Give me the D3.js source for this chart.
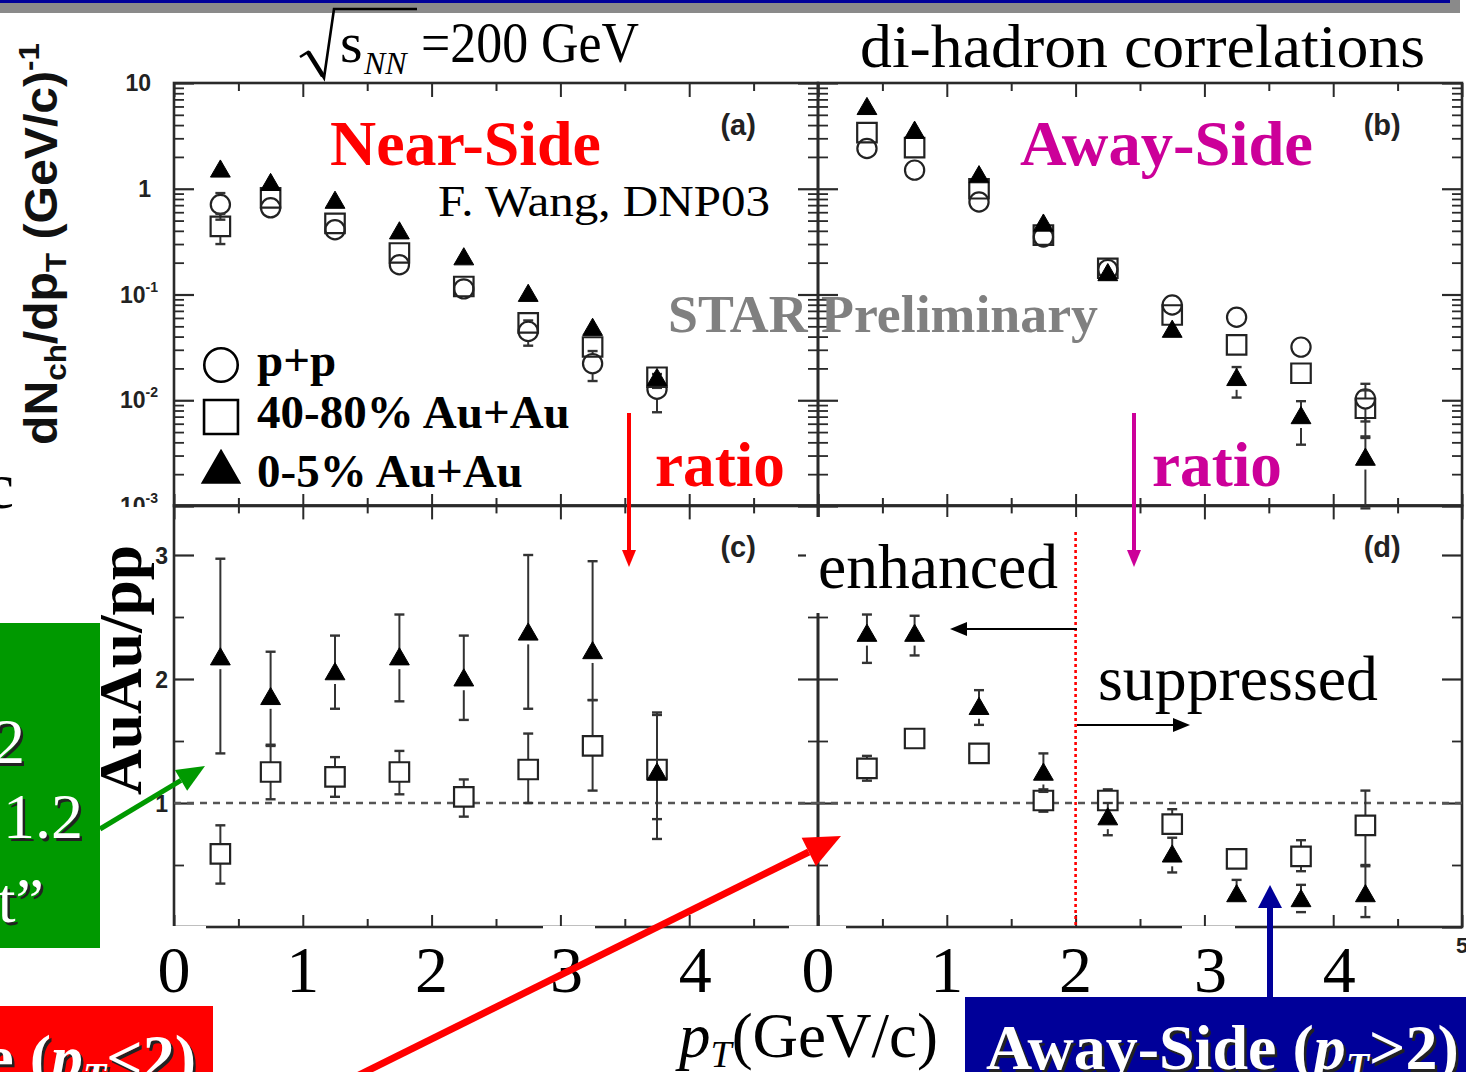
<!DOCTYPE html>
<html>
<head>
<meta charset="utf-8">
<script src="https://cdn.jsdelivr.net/npm/d3@7"></script>
<style>
  body { margin: 0; background: #fff; overflow: hidden; }
  svg { display: block; }
</style>
</head>
<body>
<svg id="chart" width="1466" height="1072"></svg>
<script>
// ---- pT bin centres (GeV/c) ----
const ptNear = [0.36, 0.75, 1.25, 1.75, 2.25, 2.75, 3.25, 3.75];
const ptAway = [0.38, 0.75, 1.25, 1.75, 2.25, 2.75, 3.25, 3.75, 4.25];

// ---- (a) near-side yields dN/dpT ----
const nearPP      = [0.71, 0.66, 0.41, 0.191, 0.113, 0.0448, 0.0222, 0.0127];
const nearPPErr   = [0.20, 0, 0, 0, 0, 0.012, 0.007, 0.005];
const nearPeri    = [0.44, 0.82, 0.47, 0.247, 0.119, 0.054, 0.0319, 0.0165];
const nearPeriErr = [0.14, 0, 0, 0, 0, 0, 0, 0.0034];
const nearCent    = [1.46, 1.09, 0.74, 0.38, 0.216, 0.0975, 0.0465, 0.0156];
const nearCentErr = [0, 0, 0, 0, 0, 0, 0, 0];

// ---- (b) away-side yields dN/dpT ----
const awayPP      = [2.4, 1.5, 0.75, 0.35, 0.172, 0.0796, 0.061, 0.0318, 0.0103];
const awayPPErr   = [0, 0, 0, 0, 0, 0, 0, 0, 0.004];
const awayPeri    = [3.4, 2.45, 1.0, 0.364, 0.177, 0.064, 0.0334, 0.018, 0.0084];
const awayPeriErr = [0, 0, 0, 0, 0, 0, 0, 0, 0.004];
const awayCent    = [5.7, 3.4, 1.29, 0.45, 0.153, 0.0446, 0.0156, 0.0068, 0.00275];
const awayCentErr = [0, 0, 0, 0, 0, 0, 0.005, 0.003, 0.0018];

// ---- (c) near-side ratio AuAu/pp ----
const nearRatioCent   = [2.16, 1.84, 2.04, 2.16, 1.99, 2.36, 2.21, 1.23];
const nearRatioCentHi = [0.81, 0.38, 0.31, 0.36, 0.36, 0.64, 0.74, 0.50];
const nearRatioCentLo = [0.76, 0.38, 0.28, 0.34, 0.32, 0.60, 0.38, 0.52];
const nearRatioPeri   = [0.59, 1.25, 1.21, 1.25, 1.05, 1.27, 1.46, 1.27];
const nearRatioPeriHi = [0.23, 0.22, 0.16, 0.17, 0.14, 0.29, 0.37, 0.44];
const nearRatioPeriLo = [0.24, 0.22, 0.16, 0.18, 0.16, 0.27, 0.36, 0.40];

// ---- (d) away-side ratio AuAu/pp ----
const awayRatioCent   = [2.35, 2.35, 1.76, 1.23, 0.87, 0.57, 0.25, 0.21, 0.25];
const awayRatioCentHi = [0.17, 0.16, 0.15, 0.17, 0.13, 0.15, 0.13, 0.13, 0.24];
const awayRatioCentLo = [0.22, 0.16, 0.13, 0.14, 0.13, 0.13, 0.08, 0.09, 0.17];
const awayRatioPeri   = [1.28, 1.52, 1.40, 1.02, 1.02, 0.83, 0.55, 0.57, 0.82];
const awayRatioPeriHi = [0.10, 0.05, 0.05, 0.09, 0.09, 0.12, 0.08, 0.13, 0.28];
const awayRatioPeriLo = [0.10, 0.05, 0.05, 0.09, 0.06, 0.08, 0.08, 0.12, 0.32];

// ---- axis ticks / labels ----
const xMajor = [0, 1, 2, 3, 4, 5];
const xMinor = [0.5, 1.5, 2.5, 3.5, 4.5];
const xTickText = ["0", "1", "2", "3", "4"];
const logDecades = [1e-3, 1e-2, 1e-1, 1, 10];
const logLabels = [["10", "-3"], ["10", "-2"], ["10", "-1"], ["1", ""], ["10", ""]];
const ratioMajor = [0, 1, 2, 3];
const ratioMinor = [0.5, 1.5, 2.5];
const ratioLabels = ["1", "2", "3"];

const SERIF = "'Liberation Serif','Times New Roman',serif";
const SANS = "'Liberation Sans',Arial,sans-serif";
const RED = "#ff0000", MAG = "#cc0099", FRAME = "#2a2a2a";

const svg = d3.select("#chart");

// ---- scales ----
const xL = d3.scaleLinear().domain([0, 5]).range([174, 818]);
const xR = d3.scaleLinear().domain([0, 5]).range([818, 1462]);
const yTop = d3.scaleLog().domain([1e-3, 10]).range([506, 83]);
const yBot = d3.scaleLinear().domain([0, 3.4]).range([927, 505.4]);

const logMinor = [];
logDecades.slice(0, 4).forEach(d => { for (let k = 2; k <= 9; k++) logMinor.push(d * k); });

// ---- slide header bar ----
svg.append("rect").attr("x", 0).attr("y", 0).attr("width", 1460).attr("height", 13).attr("fill", "#8a8a8a");
svg.append("rect").attr("x", 0).attr("y", 0).attr("width", 1450).attr("height", 3).attr("fill", "#000099");

// ---- panel frames with inward ticks ----
function tickGroup(axis, tx, ty, w) {
  const g = svg.append("g").attr("transform", `translate(${tx},${ty})`).call(axis);
  g.select(".domain").remove();
  g.selectAll(".tick line").attr("stroke", FRAME).attr("stroke-width", w);
  g.selectAll(".tick text").remove();
}

function frame(x, y, yMajor, yMinor) {
  const [x0, x1] = x.range();
  const [yb, yt] = y.range();
  tickGroup(d3.axisBottom(x).tickValues(xMajor).tickSize(14).tickFormat(""), 0, yt, 2);
  tickGroup(d3.axisBottom(x).tickValues(xMinor).tickSize(8).tickFormat(""), 0, yt, 2);
  tickGroup(d3.axisTop(x).tickValues(xMajor).tickSize(12).tickFormat(""), 0, yb, 2);
  tickGroup(d3.axisTop(x).tickValues(xMinor).tickSize(8).tickFormat(""), 0, yb, 2);
  tickGroup(d3.axisRight(y).tickValues(yMajor).tickSize(20).tickFormat(""), x0, 0, 2.2);
  tickGroup(d3.axisRight(y).tickValues(yMinor).tickSize(10).tickFormat(""), x0, 0, 1.8);
  tickGroup(d3.axisLeft(y).tickValues(yMajor).tickSize(20).tickFormat(""), x1, 0, 2.2);
  tickGroup(d3.axisLeft(y).tickValues(yMinor).tickSize(10).tickFormat(""), x1, 0, 1.8);
  svg.append("rect").attr("x", x0).attr("y", yt).attr("width", x1 - x0).attr("height", yb - yt)
    .attr("fill", "none").attr("stroke", FRAME).attr("stroke-width", 2.6);
}

frame(xL, yTop, logDecades, logMinor);
frame(xR, yTop, logDecades, logMinor);
frame(xL, yBot, ratioMajor, ratioMinor);
frame(xR, yBot, ratioMajor, ratioMinor);

// unity reference line in the ratio panels
[xL, xR].forEach(x => {
  svg.append("line").attr("x1", x.range()[0]).attr("x2", x.range()[1])
    .attr("y1", yBot(1)).attr("y2", yBot(1))
    .attr("stroke", "#555").attr("stroke-width", 2.4).attr("stroke-dasharray", "7,6");
});

// ---- y tick labels ----
const topLabels = svg.append("g");
logDecades.forEach((d, i) => {
  const [base, sup] = logLabels[i];
  const t = topLabels.append("text").attr("x", sup ? 158 : 151).attr("y", yTop(d) + 8)
    .attr("text-anchor", "end").attr("font-family", SANS).attr("font-weight", "bold")
    .attr("font-size", 23).attr("fill", "#222");
  t.append("tspan").text(base);
  if (sup) t.append("tspan").attr("font-size", 14).attr("dy", -11).text(sup);
});
// lower half of the bottom decade label is hidden under the ratio panel
svg.append("rect").attr("x", 100).attr("y", 507).attr("width", 72).attr("height", 30).attr("fill", "#fff");

ratioLabels.forEach(l => {
  svg.append("text").attr("x", 168).attr("y", yBot(+l) + 9).attr("text-anchor", "end")
    .attr("font-family", SANS).attr("font-weight", "bold").attr("font-size", 23).attr("fill", "#222").text(l);
});

// panel tags
[["(a)", xL, yTop], ["(b)", xR, yTop], ["(c)", xL, yBot], ["(d)", xR, yBot]].forEach(([t, x, y]) => {
  svg.append("text").attr("x", x(4.38)).attr("y", y.range()[1] + 52).attr("text-anchor", "middle")
    .attr("font-family", SANS).attr("font-weight", "bold").attr("font-size", 29).attr("fill", "#222").text(t);
});

// ---- data points ----
const sym = {
  circle: d3.symbol(d3.symbolCircle, 290),
  square: d3.symbol(d3.symbolSquare, 380),
  triangle: d3.symbol(d3.symbolTriangle, 170)
};

function series(x, y, xs, vals, lo, hi, type, fill) {
  const g = svg.append("g");
  const half = 10, cap = 5;
  xs.forEach((p, i) => {
    const cx = x(p), cy = y(vals[i]);
    const segs = [];
    if (hi[i] > 0) { const ye = y(vals[i] + hi[i]); if (ye < cy - half) segs.push([ye, cy - half]); }
    if (lo[i] > 0) { const ye = y(Math.max(vals[i] - lo[i], y.domain()[0] || 1e-4)); if (ye > cy + half) segs.push([cy + half, ye]); }
    segs.forEach(([a, b]) => g.append("line").attr("x1", cx).attr("x2", cx).attr("y1", a).attr("y2", b)
      .attr("stroke", "#333").attr("stroke-width", 2));
    if (hi[i] > 0 && y(vals[i] + hi[i]) < cy - half)
      g.append("line").attr("x1", cx - cap).attr("x2", cx + cap).attr("y1", y(vals[i] + hi[i])).attr("y2", y(vals[i] + hi[i]))
        .attr("stroke", "#333").attr("stroke-width", 2.4);
    if (lo[i] > 0 && y(vals[i] - lo[i]) > cy + half)
      g.append("line").attr("x1", cx - cap).attr("x2", cx + cap).attr("y1", y(vals[i] - lo[i])).attr("y2", y(vals[i] - lo[i]))
        .attr("stroke", "#333").attr("stroke-width", 2.4);
  });
  g.selectAll(null).data(xs).join("path")
    .attr("transform", (p, i) => `translate(${x(p)},${y(vals[i])})`)
    .attr("d", sym[type]())
    .attr("fill", fill)
    .attr("stroke", type === "triangle" ? "#000" : "#222")
    .attr("stroke-width", type === "triangle" ? 1 : 2.2);
}

series(xL, yTop, ptNear, nearPP, nearPPErr, nearPPErr, "circle", "none");
series(xL, yTop, ptNear, nearPeri, nearPeriErr, nearPeriErr, "square", "none");
series(xL, yTop, ptNear, nearCent, nearCentErr, nearCentErr, "triangle", "#000");
series(xR, yTop, ptAway, awayPP, awayPPErr, awayPPErr, "circle", "none");
series(xR, yTop, ptAway, awayPeri, awayPeriErr, awayPeriErr, "square", "none");
series(xR, yTop, ptAway, awayCent, awayCentErr, awayCentErr, "triangle", "#000");

series(xL, yBot, ptNear, nearRatioPeri, nearRatioPeriLo, nearRatioPeriHi, "square", "#fff");
series(xL, yBot, ptNear, nearRatioCent, nearRatioCentLo, nearRatioCentHi, "triangle", "#000");
series(xR, yBot, ptAway, awayRatioPeri, awayRatioPeriLo, awayRatioPeriHi, "square", "#fff");
series(xR, yBot, ptAway, awayRatioCent, awayRatioCentLo, awayRatioCentHi, "triangle", "#000");

// ---- legend ----
const legend = [["circle", "none", "p+p"], ["square", "none", "40-80% Au+Au"], ["triangle", "#000", "0-5% Au+Au"]];
const legendBig = {
  circle: d3.symbol(d3.symbolCircle, 880),
  square: d3.symbol(d3.symbolSquare, 1150),
  triangle: d3.symbol(d3.symbolTriangle, 560)
};
legend.forEach(([type, fill, label], i) => {
  const cy = 365 + i * 52;
  svg.append("path").attr("transform", `translate(221,${cy + (type === "triangle" ? 3 : 0)})`)
    .attr("d", legendBig[type]()).attr("fill", fill).attr("stroke", "#000").attr("stroke-width", 2.6);
  svg.append("text").attr("x", 257).attr("y", cy + 11 + (i === 2 ? 7 : 0))
    .attr("font-family", SERIF).attr("font-weight", "bold").attr("font-size", 47).attr("fill", "#000").text(label);
});

// ---- annotation text ----
function text(x, y, str, opts = {}) {
  const t = svg.append("text").attr("x", x).attr("y", y)
    .attr("font-family", opts.family || SERIF)
    .attr("font-size", opts.size || 60)
    .attr("font-weight", opts.weight || "normal")
    .attr("fill", opts.fill || "#000")
    .attr("text-anchor", opts.anchor || "start");
  if (opts.len) t.attr("textLength", opts.len).attr("lengthAdjust", "spacingAndGlyphs");
  if (opts.transform) t.attr("transform", opts.transform);
  t.text(str);
  return t;
}

// sqrt(s_NN) = 200 GeV
svg.append("path").attr("d", "M300,57 L308,52 L324,78 L334,9 L417,9")
  .attr("fill", "none").attr("stroke", "#000").attr("stroke-width", 2.6).attr("stroke-linejoin", "miter");
svg.append("line").attr("x1", 308).attr("y1", 52).attr("x2", 323).attr("y2", 76).attr("stroke", "#000").attr("stroke-width", 4.5);
text(340, 62, "s", { size: 58 });
text(364, 74, "NN", { size: 32 }).attr("font-style", "italic");
text(421, 62, "=200 GeV", { size: 57, len: 218 });

text(860, 67, "di-hadron correlations", { size: 61, len: 565 });
text(330, 165, "Near-Side", { size: 63, weight: "bold", fill: RED, len: 271 });
text(1020, 165, "Away-Side", { size: 63, weight: "bold", fill: MAG, len: 293 });
text(438, 216, "F. Wang, DNP03", { size: 45, len: 332 });
text(668, 332, "STAR Preliminary", { size: 53, weight: "bold", fill: "#808080", len: 430 });
text(655, 486, "ratio", { size: 63, weight: "bold", fill: RED, len: 130 });
text(1152, 486, "ratio", { size: 63, weight: "bold", fill: MAG, len: 130 });

// y title of the yield panels
const yt = svg.append("text").attr("transform", "translate(57,244) rotate(-90)")
  .attr("text-anchor", "middle").attr("font-family", SANS).attr("font-weight", "bold")
  .attr("font-size", 46).attr("fill", "#111").attr("textLength", 402).attr("lengthAdjust", "spacingAndGlyphs");
yt.append("tspan").text("dN");
yt.append("tspan").attr("font-size", 30).attr("dy", 9).text("ch");
yt.append("tspan").attr("dy", -9).text("/dp");
yt.append("tspan").attr("font-size", 30).attr("dy", 9).text("T");
yt.append("tspan").attr("dy", -9).text(" (GeV/c)");
yt.append("tspan").attr("font-size", 30).attr("dy", -18).text("-1");

// white panel behind "enhanced"
svg.append("rect").attr("x", 806).attr("y", 517).attr("width", 271).attr("height", 96).attr("fill", "#fff");
text(818, 588, "enhanced", { size: 63, len: 240 });
text(1098, 700, "suppressed", { size: 63, len: 280 });

// pT = 2 boundary in the away-side ratio
svg.append("line").attr("x1", xR(2)).attr("x2", xR(2)).attr("y1", 532).attr("y2", 926)
  .attr("stroke", RED).attr("stroke-width", 2.6).attr("stroke-dasharray", "3,3");

// ---- arrows ----
function arrow(x1, y1, x2, y2, color, width, headLen, headW) {
  const ang = Math.atan2(y2 - y1, x2 - x1);
  const bx = x2 - headLen * Math.cos(ang), by = y2 - headLen * Math.sin(ang);
  svg.append("line").attr("x1", x1).attr("y1", y1).attr("x2", bx).attr("y2", by)
    .attr("stroke", color).attr("stroke-width", width);
  const px = -Math.sin(ang) * headW / 2, py = Math.cos(ang) * headW / 2;
  svg.append("path").attr("d", `M${x2},${y2}L${bx + px},${by + py}L${bx - px},${by - py}Z`).attr("fill", color);
}
arrow(629, 413, 629, 567, RED, 4, 17, 14);
arrow(1134, 413, 1134, 567, MAG, 4, 17, 14);
arrow(1077, 629, 950, 629, "#000", 2.2, 17, 14);
arrow(1077, 725, 1190, 725, "#000", 2.2, 17, 14);

// ---- x-axis labels (white boxes cut the axis) ----
[[148, 58], [543, 52], [789, 57], [1182, 53]].forEach(([x, w]) => {
  svg.append("rect").attr("x", x).attr("y", 926).attr("width", w).attr("height", 74).attr("fill", "#fff");
});
[xL, xR].forEach(x => {
  xTickText.forEach((t, i) => {
    text(x(i) + (i === 3 || i === 4 ? 6 : 0), 992, t, { size: 66, anchor: "middle" });
  });
});
text(xR(5), 953, "5", { size: 22, weight: "bold", family: SANS, anchor: "middle", fill: "#222" });

const xt = svg.append("text").attr("x", 679).attr("y", 1057).attr("font-family", SERIF).attr("font-size", 63).attr("fill", "#000");
xt.append("tspan").attr("font-style", "italic").text("p");
xt.append("tspan").attr("font-style", "italic").attr("font-size", 38).attr("dy", 10).text("T");
xt.append("tspan").attr("dy", -10).text("(GeV/c)");

// ---- rotated ratio title ----
text(0, 0, "AuAu/pp", { size: 62, weight: "bold", anchor: "middle", len: 250, transform: "translate(141,670) rotate(-90)" });

// stray letter at the left margin
text(14, 508, "c", { size: 66, anchor: "end" });

// ---- coloured callout boxes ----
function shadowText(x, y, parts, opts) {
  [["#222", 2.5], ["#fff", 0]].forEach(([fill, off]) => {
    const t = svg.append("text").attr("x", x + off).attr("y", y + off)
      .attr("font-family", SERIF).attr("font-size", opts.size).attr("font-weight", opts.weight || "normal")
      .attr("fill", fill).attr("text-anchor", opts.anchor || "start");
    parts.forEach(p => {
      const s = t.append("tspan").text(p.t);
      if (p.italic) s.attr("font-style", "italic");
      if (p.size) s.attr("font-size", p.size);
      if (p.dy) s.attr("dy", p.dy);
    });
  });
}

svg.append("rect").attr("x", 0).attr("y", 623).attr("width", 100).attr("height", 325).attr("fill", "#009900");
shadowText(25, 763, [{ t: "2" }], { size: 64, anchor: "end" });
shadowText(3, 838, [{ t: "1.2" }], { size: 64 });
shadowText(44, 922, [{ t: "t\u201D" }], { size: 64, anchor: "end" });
arrow(100, 829, 205, 766, "#009900", 5, 28, 24);

svg.append("rect").attr("x", 0).attr("y", 1006).attr("width", 213).attr("height", 70).attr("fill", "#ff0000");
shadowText(196, 1079, [{ t: "e (" }, { t: "p", italic: true }, { t: "T", italic: true, size: 38, dy: 10 }, { t: "<2)", dy: -10 }],
  { size: 64, weight: "bold", anchor: "end" });

svg.append("rect").attr("x", 965).attr("y", 997).attr("width", 501).attr("height", 80).attr("fill", "#000099");
shadowText(986, 1069, [{ t: "Away-Side (" }, { t: "p", italic: true }, { t: "T", italic: true, size: 38, dy: 10 }, { t: ">2)", dy: -10 }],
  { size: 64, weight: "bold" });

arrow(1270, 1000, 1270, 885, "#000099", 6, 23, 24);
arrow(355, 1077, 841, 836, RED, 7, 36, 32);
</script>
</body>
</html>
